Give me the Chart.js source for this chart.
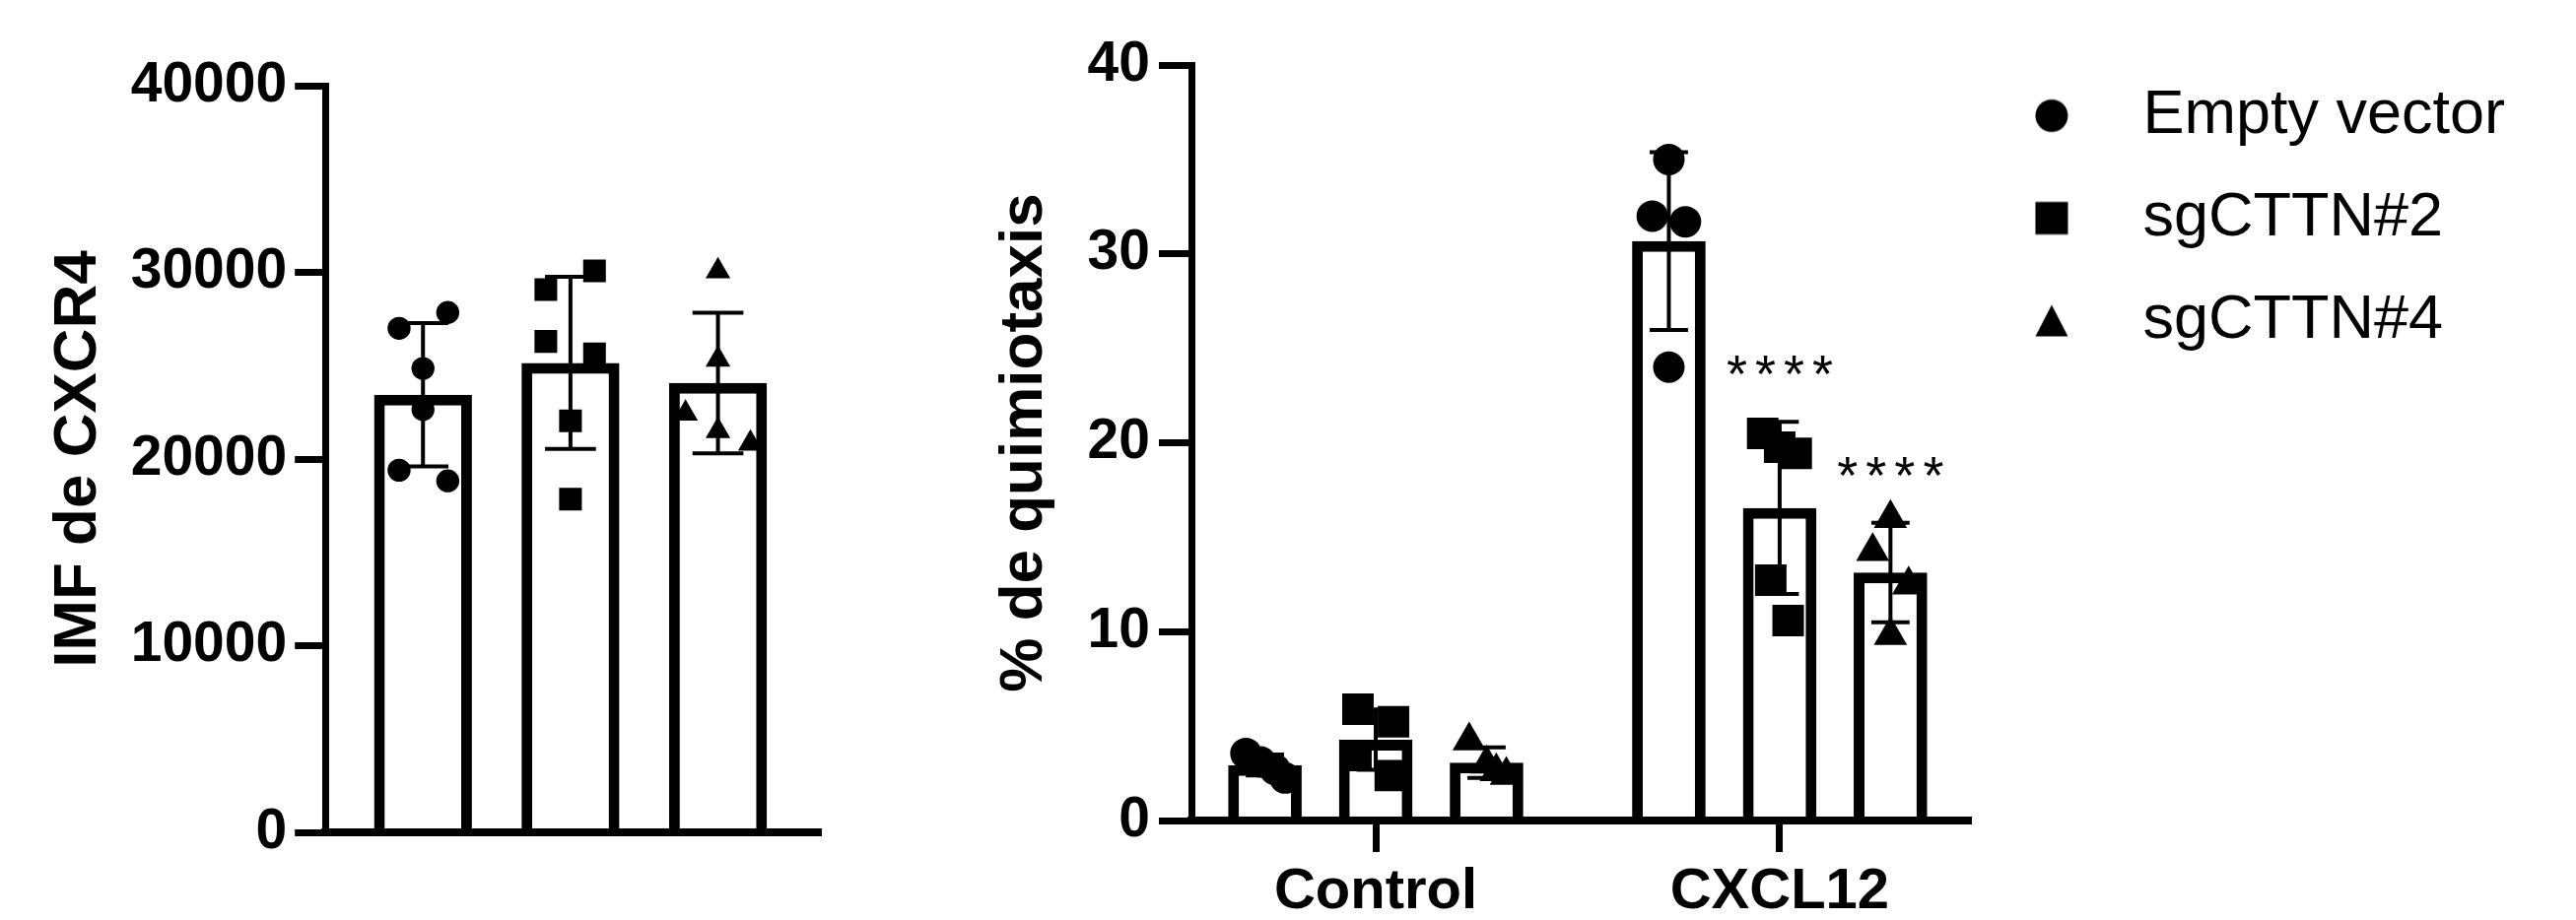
<!DOCTYPE html>
<html>
<head>
<meta charset="utf-8">
<script src="https://cdn.jsdelivr.net/npm/chart.js@4.4.1/dist/chart.umd.min.js"></script>
<style>
  html, body { margin: 0; padding: 0; background: #fff; }
  body { width: 2614px; height: 934px; position: relative; overflow: hidden; }
  canvas { position: absolute; top: 0; }
  #left { left: 0; }
  #right { left: 1000px; }
</style>
</head>
<body>
<canvas id="left" width="850" height="934"></canvas>
<canvas id="right" width="1614" height="934"></canvas>
<script>
// ---- left panel: IMF de CXCR4 ----
const leftCategories = ['Empty vector', 'sgCTTN#2', 'sgCTTN#4'];
const leftMeans = [23440, 25150, 24070];
const leftSD = [3840, 4610, 3770];
const leftEV = [27000, 27850, 24850, 22650, 19400, 18830];
const leftEVjitter = [-0.162, 0.168, 0, 0, -0.162, 0.168];
const leftSg2 = [29080, 30080, 26300, 25630, 22040, 17850];
const leftSg2jitter = [-0.167, 0.163, -0.167, 0.163, 0, 0];
const leftSg4 = [30060, 25330, 22440, 21500, 20830];
const leftSg4jitter = [0, 0, -0.22, 0, 0.22];
const leftTicks = [0, 10000, 20000, 30000, 40000];

// ---- right panel: % de quimiotaxis ----
const groups = ['Control', 'CXCL12'];
const series = ['Empty vector', 'sgCTTN#2', 'sgCTTN#4'];
const meanEV = [2.94, 30.68];
const meanSg2 = [4.28, 16.55];
const meanSg4 = [3.06, 13.13];
const sdEV = [0.55, 4.71];
const sdSg2 = [1.6, 4.56];
const sdSg4 = [0.81, 2.63];
const sigEV = ['', ''];
const sigSg2 = ['', '****'];
const sigSg4 = ['', '****'];
const ptsEV = [[3.55, 3.1, 2.7, 2.25], [35.0, 32.0, 31.7, 24.0]];
const jitEV = [[-0.047, -0.011, 0.025, 0.05], [0, -0.041, 0.041, 0]];
const ptsSg2 = [[5.89, 5.23, 3.44, 2.38], [20.5, 19.76, 19.44, 12.72, 10.59]];
const jitSg2 = [[-0.044, 0.044, -0.049, 0.036], [-0.042, 0, 0.041, -0.022, 0.021]];
const ptsSg4 = [[4.22, 3.0, 2.6, 2.4], [16.0, 14.25, 12.48, 9.81]];
const jitSg4 = [[-0.043, 0, 0.024, 0.049], [0, -0.044, 0.045, 0]];
const rightTicks = [0, 10, 20, 30, 40];

Chart.defaults.font.family = '"Liberation Sans", Arial, sans-serif';
Chart.defaults.color = '#000';

const CAT_PCT = 0.823;
const BAR_PCT = 0.664;

// error bars (mean +/- SD) drawn right after each bar dataset
const errorBars = {
  id: 'errorBars',
  afterDatasetDraw(chart, args) {
    const ds = chart.data.datasets[args.index];
    if (!ds.sd) return;
    const y = chart.scales.y;
    const ctx = chart.ctx;
    ctx.save();
    ctx.strokeStyle = '#000';
    ctx.lineWidth = 4;
    args.meta.data.forEach((bar, i) => {
      const m = ds.data[i].y, s = ds.sd[i];
      const top = y.getPixelForValue(m + s);
      const bot = y.getPixelForValue(m - s);
      const half = bar.width * 0.26;
      ctx.beginPath();
      ctx.moveTo(bar.x, top); ctx.lineTo(bar.x, bot);
      ctx.moveTo(bar.x - half, top); ctx.lineTo(bar.x + half, top);
      ctx.moveTo(bar.x - half, bot); ctx.lineTo(bar.x + half, bot);
      ctx.stroke();
    });
    ctx.restore();
  }
};

// significance stars above the error bars
const stars = {
  id: 'stars',
  afterDatasetsDraw(chart) {
    const ctx = chart.ctx;
    const y = chart.scales.y;
    chart.data.datasets.forEach((ds, di) => {
      if (!ds.sig) return;
      chart.getDatasetMeta(di).data.forEach((bar, i) => {
        if (!ds.sig[i]) return;
        const top = y.getPixelForValue(ds.data[i].y + ds.sd[i]);
        ctx.save();
        ctx.font = '54px "Liberation Sans", Arial, sans-serif';
        ctx.letterSpacing = '8px';
        ctx.textAlign = 'center';
        ctx.textBaseline = 'alphabetic';
        ctx.fillStyle = '#000';
        ctx.fillText(ds.sig[i], bar.x + 4, top - 30);
        ctx.restore();
      });
    });
  }
};

function pointSet(values, xs, style, radius) {
  return {
    type: 'scatter',
    data: values.map((v, i) => ({ x: xs[i], y: v })),
    pointStyle: style,
    pointRadius: radius,
    pointHoverRadius: radius,
    pointBackgroundColor: '#000',
    pointBorderWidth: 0,
    order: 1
  };
}

function barSet(label, means, sd, sig) {
  return {
    type: 'bar',
    label: label,
    data: means.map((m, i) => ({ x: i, y: m })),
    sd: sd,
    sig: sig,
    backgroundColor: '#fff',
    borderColor: '#000',
    borderWidth: 11,
    categoryPercentage: CAT_PCT,
    barPercentage: BAR_PCT,
    order: 2
  };
}

// left chart
const leftBars = barSet('IMF', leftMeans, leftSD, null);
leftBars.categoryPercentage = 1;

new Chart(document.getElementById('left'), {
  type: 'bar',
  data: {
    datasets: [
      leftBars,
      pointSet(leftEV, leftEVjitter.map(j => 0 + j), 'circle', 11.7),
      pointSet(leftSg2, leftSg2jitter.map(j => 1 + j), 'rect', 16.3),
      pointSet(leftSg4, leftSg4jitter.map(j => 2 + j), 'triangle', 14.5)
    ]
  },
  options: {
    responsive: false,
    animation: false,
    layout: { padding: { left: 0, top: 87, right: 10, bottom: 89 } },
    plugins: { legend: { display: false }, tooltip: { enabled: false } },
    scales: {
      x: {
        type: 'linear',
        offset: false,
        min: -0.6616,
        max: 2.7025,
        afterBuildTicks: ax => { ax.ticks = leftCategories.map((c, i) => ({ value: i })); },
        grid: { display: false, drawTicks: false, offset: false },
        ticks: { display: false },
        border: { display: true, color: '#000', width: 8, z: 1 }
      },
      y: {
        min: 0,
        max: 40000,
        afterBuildTicks: ax => { ax.ticks = leftTicks.map(v => ({ value: v })); },
        ticks: { font: { size: 57, weight: 'bold' }, padding: 8, callback: v => String(v) },
        grid: { drawOnChartArea: false, drawTicks: true, tickLength: 31, tickWidth: 7, tickColor: '#000' },
        border: { display: true, color: '#000', width: 7 },
        title: {
          display: true,
          text: 'IMF de CXCR4',
          font: { size: 62, weight: 'bold' },
          padding: { top: 42.8, bottom: 7.5 }
        }
      }
    }
  },
  plugins: [errorBars]
});

// legend icons
function icon(kind) {
  const c = document.createElement('canvas');
  c.width = 40; c.height = 40;
  const g = c.getContext('2d');
  g.fillStyle = '#000';
  g.beginPath();
  if (kind === 'circle') g.arc(20, 20, 16.5, 0, Math.PI * 2);
  else if (kind === 'rect') g.rect(3.5, 3.5, 33, 33);
  else { g.moveTo(20, 4); g.lineTo(36.5, 36); g.lineTo(3.5, 36); g.closePath(); }
  g.fill();
  return c;
}
const legendIcons = [icon('circle'), icon('rect'), icon('triangle')];

// right chart
const slot = CAT_PCT / series.length;
function xs(jit, k) {
  const out = [];
  jit.forEach((arr, gi) => arr.forEach(j => out.push(gi + (k - 1) * slot + j)));
  return out;
}

new Chart(document.getElementById('right'), {
  type: 'bar',
  data: {
    datasets: [
      barSet(series[0], meanEV, sdEV, sigEV),
      barSet(series[1], meanSg2, sdSg2, sigSg2),
      barSet(series[2], meanSg4, sdSg4, sigSg4),
      pointSet(ptsEV.flat(), xs(jitEV, 0), 'circle', 16),
      pointSet(ptsSg2.flat(), xs(jitSg2, 1), 'rect', 22.6),
      pointSet(ptsSg4.flat(), xs(jitSg4, 2), 'triangle', 19.5)
    ]
  },
  options: {
    responsive: false,
    animation: false,
    layout: { padding: { left: 0, top: 66, right: 62, bottom: -13 } },
    plugins: {
      tooltip: { enabled: false },
      legend: {
        display: true,
        position: 'right',
        align: 'start',
        maxWidth: 700,
        labels: {
          usePointStyle: true,
          pointStyleWidth: 122,
          padding: 20,
          color: '#000',
          font: { size: 63, lineHeight: 1.3333 },
          generateLabels: () => series.map((name, i) => ({
            text: [name],
            pointStyle: legendIcons[i],
            fillStyle: '#000',
            strokeStyle: '#000',
            fontColor: '#000',
            lineWidth: 0,
            hidden: false,
            datasetIndex: i + 3
          }))
        }
      }
    },
    scales: {
      x: {
        type: 'linear',
        offset: false,
        min: -0.4563,
        max: 1.4757,
        afterBuildTicks: ax => { ax.ticks = groups.map((g, i) => ({ value: i })); },
        ticks: {
          font: { size: 58, weight: 'bold', lineHeight: 1 },
          padding: 12,
          maxRotation: 0,
          callback: v => groups[v] || ''
        },
        grid: { offset: false, drawOnChartArea: false, drawTicks: true, tickLength: 32, tickWidth: 7, tickColor: '#000' },
        border: { display: true, color: '#000', width: 8, z: 1 }
      },
      y: {
        min: 0,
        max: 40,
        afterBuildTicks: ax => { ax.ticks = rightTicks.map(v => ({ value: v })); },
        ticks: { font: { size: 57, weight: 'bold' }, padding: 9, callback: v => String(v) },
        grid: { drawOnChartArea: false, drawTicks: true, tickLength: 33, tickWidth: 7, tickColor: '#000' },
        border: { display: true, color: '#000', width: 7 },
        title: {
          display: true,
          text: '% de quimiotaxis',
          font: { size: 62, weight: 'bold' },
          padding: { top: 2.8, bottom: 17.4 }
        }
      }
    }
  },
  plugins: [errorBars, stars]
});
</script>
</body>
</html>
